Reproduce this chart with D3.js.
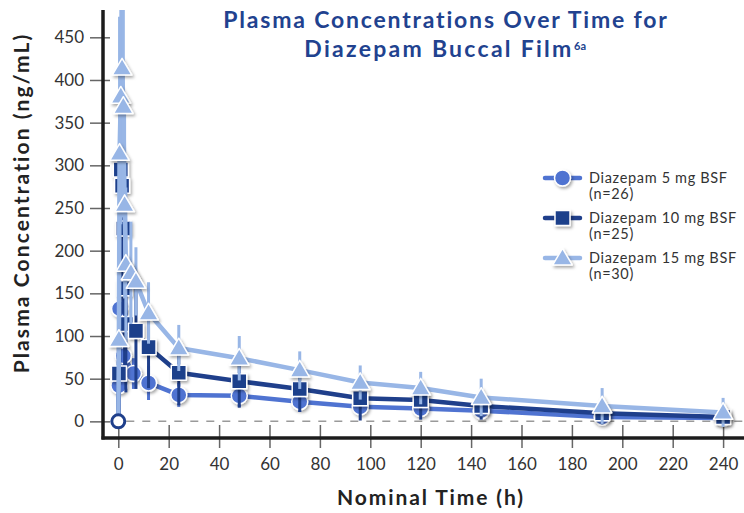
<!DOCTYPE html>
<html>
<head>
<meta charset="utf-8">
<script src="https://cdn.jsdelivr.net/npm/d3@7"></script>
<style>
  body { margin: 0; background: #fff; }
  svg { display: block; font-family: Lato, "Open Sans", sans-serif; }
</style>
</head>
<body>
<div class="chart"></div>
<script>

// Chart data
var xTicks = [0, 20, 40, 60, 80, 100, 120, 140, 160, 180, 200, 220, 240];
var yTicks = [0, 50, 100, 150, 200, 250, 300, 350, 400, 450];

var times5 = [0, 0.25, 0.5, 2, 6, 12, 24, 48, 72, 96, 120, 144, 192, 240];
var conc5  = [0, 42, 132, 77, 56, 45, 31, 30, 23, 17, 15, 12.5, 5, 4];
var sd5    = [0, 20, 45, 35, 18, 20, 14, 13, 12, 10, 9, 8, 6, 5];

var times10 = [0, 0.25, 1, 1.5, 2, 2.5, 3, 7, 12, 24, 48, 72, 96, 120, 144, 192, 240];
var conc10  = [0, 56, 295, 276, 226, 156, 114, 106, 87, 57, 47, 38, 27, 25, 18, 9.5, 5];
var sd10    = [0, 30, 120, 110, 100, 90, 80, 68, 48, 38, 31, 27, 26, 23, 16, 13, 8];

var times15 = [0, 0.25, 0.5, 1, 1.5, 2, 2.5, 3, 5, 7, 12, 24, 48, 72, 96, 120, 144, 192, 240];
var conc15  = [0, 96, 314, 381, 414, 369, 254, 184, 174, 164, 127, 86, 74, 60, 45.5, 39, 28, 18, 10.5];
var sd15    = [0, 60, 160, 150, 140, 130, 110, 90, 60, 40, 36, 27, 26, 22, 20, 19, 22, 21, 17];

var seriesNames = ["Diazepam 5 mg BSF", "Diazepam 10 mg BSF", "Diazepam 15 mg BSF"];
var seriesN = ["(n=26)", "(n=25)", "(n=30)"];

var colors = ["#4f73d1", "#1f3f8b", "#98b6e6"];
var shapes = ["circle", "square", "triangle"];

var width = 744, height = 513;
var margin = { left: 103, right: 2, top: 10, bottom: 75 };

var svg = d3.select(".chart")
  .append("svg")
    .attr("width", width)
    .attr("height", height);

// Widen a text with letter spacing until it is as wide as the reference
function spreadTo(sel, target) {
  var node = sel.node();
  var w = node.getComputedTextLength();
  var n = node.textContent.length;
  if (w < target && n > 1) sel.attr("letter-spacing", ((target - w) / (n - 1)).toFixed(2));
}

// Scales
var x = d3.scaleLinear().domain([-6.07, 247.5]).range([margin.left, width - margin.right]);
var y = d3.scaleLinear().domain([-19.5, 482]).range([height - margin.bottom, margin.top]);

var defs = svg.append("defs");
defs.append("clipPath").attr("id", "plotClip")
  .append("rect")
    .attr("x", margin.left)
    .attr("y", margin.top)
    .attr("width", width - margin.left)
    .attr("height", height - margin.bottom - margin.top);

var shadow = defs.append("filter").attr("id", "shadow")
    .attr("x", "-50%").attr("y", "-50%").attr("width", "200%").attr("height", "200%");
shadow.append("feDropShadow")
    .attr("dx", 1.5).attr("dy", 2).attr("stdDeviation", 1.4)
    .attr("flood-color", "#000").attr("flood-opacity", 0.35);

// Title
var title1 = svg.append("text")
    .attr("x", 446).attr("y", 28)
    .attr("text-anchor", "middle")
    .attr("fill", "#21428f")
    .style("font-weight", 700)
    .style("font-size", "23px")
    .text("Plasma Concentrations Over Time for");
spreadTo(title1, 444);

var title2 = svg.append("text")
    .attr("x", 439).attr("y", 57)
    .attr("text-anchor", "middle")
    .attr("fill", "#21428f")
    .style("font-weight", 700)
    .style("font-size", "23px")
    .text("Diazepam Buccal Film");
spreadTo(title2, 267);

svg.append("text")
    .attr("x", 574).attr("y", 50)
    .attr("fill", "#21428f")
    .style("font-weight", 700)
    .style("font-size", "11px")
    .text("6a");

// Dashed zero line
svg.append("line")
    .attr("x1", x(0) + 8).attr("x2", width)
    .attr("y1", y(0)).attr("y2", y(0))
    .attr("stroke", "#9a9a9a")
    .attr("stroke-width", 1.5)
    .attr("stroke-dasharray", "8,8");

// Tick marks and labels
var xAxis = d3.axisBottom(x).tickValues(xTicks).tickSize(23).tickPadding(10);
var gx = svg.append("g")
    .attr("transform", "translate(0," + (y(-19.5) - 13) + ")")
    .call(xAxis);
gx.select(".domain").remove();
gx.selectAll(".tick line").attr("stroke", "#666").attr("stroke-width", 1.5);
gx.selectAll(".tick text").attr("fill", "#333").style("font-size", "17px").style("font-family", "Lato");

var yAxis = d3.axisLeft(y).tickValues(yTicks).tickSize(20).tickPadding(6);
var gy = svg.append("g")
    .attr("transform", "translate(" + (margin.left + 7) + ",0)")
    .call(yAxis);
gy.select(".domain").remove();
gy.selectAll(".tick line").attr("stroke", "#666").attr("stroke-width", 1.5);
gy.selectAll(".tick text").attr("fill", "#333").style("font-size", "17px").style("font-family", "Lato");

// Series
var plot = svg.append("g").attr("clip-path", "url(#plotClip)");

var seriesData = [
  { t: times5, c: conc5, sd: sd5 },
  { t: times10, c: conc10, sd: sd10 },
  { t: times15, c: conc15, sd: sd15 }
];

function drawMarker(g, shape, color, size) {
  if (shape == "circle") {
    g.append("circle").attr("r", size * 0.5).attr("fill", color);
  } else if (shape == "square") {
    g.append("rect").attr("x", -size * 0.47).attr("y", -size * 0.47)
      .attr("width", size * 0.94).attr("height", size * 0.94).attr("fill", color);
  } else {
    var s = size * 0.58;
    g.append("path").attr("d", "M0," + (-s * 1.05) + "L" + (s * 1.05) + "," + (s * 0.75) + "L" + (-s * 1.05) + "," + (s * 0.75) + "Z")
      .attr("fill", color);
  }
  g.selectAll("*").attr("stroke", "#fff").attr("stroke-width", 1.5).attr("stroke-linejoin", "round");
}

var line = d3.line()
    .x(function(d) { return x(d.t); })
    .y(function(d) { return y(d.c); });

seriesData.forEach(function(s, i) {
  var pts = s.t.map(function(t, k) { return { t: t, c: s.c[k], sd: s.sd[k] }; });
  var g = plot.append("g");

  g.append("path")
    .datum(pts)
    .attr("d", line)
    .attr("fill", "none")
    .attr("stroke", colors[i])
    .attr("stroke-width", 4.5)
    .attr("stroke-linejoin", "round");

  g.selectAll(".err")
    .data(pts.filter(function(d) { return d.sd > 0; }))
    .enter()
    .append("line")
      .attr("x1", function(d) { return x(d.t); })
      .attr("x2", function(d) { return x(d.t); })
      .attr("y1", function(d) { return y(d.c - d.sd); })
      .attr("y2", function(d) { return y(d.c + d.sd); })
      .attr("stroke", colors[i])
      .attr("stroke-width", 3);

  g.selectAll(".mk")
    .data(pts.filter(function(d) { return d.t > 0; }))
    .enter()
    .append("g")
      .attr("filter", "url(#shadow)")
      .attr("transform", function(d) { return "translate(" + x(d.t) + "," + y(d.c) + ")"; })
      .each(function() { drawMarker(d3.select(this), shapes[i], colors[i], 16); });
});

// Baseline (time 0) marker
plot.append("circle")
    .attr("cx", x(0)).attr("cy", y(0)).attr("r", 6.5)
    .attr("fill", "#fff")
    .attr("stroke", "#1f3f8b")
    .attr("stroke-width", 3);

// Axis lines
svg.append("line")
    .attr("x1", margin.left).attr("x2", margin.left)
    .attr("y1", margin.top).attr("y2", y(-19.5) + 1.5)
    .attr("stroke", "#1c1c1c").attr("stroke-width", 3.5);
svg.append("line")
    .attr("x1", margin.left - 1.5).attr("x2", width)
    .attr("y1", y(-19.5)).attr("y2", y(-19.5))
    .attr("stroke", "#1c1c1c").attr("stroke-width", 3.5);

// Axis titles
var yTitle = svg.append("text")
    .attr("transform", "translate(29,203) rotate(-90)")
    .attr("text-anchor", "middle")
    .attr("fill", "#222")
    .style("font-weight", 700)
    .style("font-size", "21px")
    .text("Plasma Concentration (ng/mL)");
spreadTo(yTitle, 339);

var xTitle = svg.append("text")
    .attr("x", 431).attr("y", 505)
    .attr("text-anchor", "middle")
    .attr("fill", "#222")
    .style("font-weight", 700)
    .style("font-size", "21px")
    .text("Nominal Time (h)");
spreadTo(xTitle, 186);

// Legend
var legend = svg.append("g").attr("transform", "translate(545,178)");
seriesNames.forEach(function(name, i) {
  var row = legend.append("g").attr("transform", "translate(0," + (i * 40) + ")");
  row.append("line")
    .attr("x1", 0).attr("x2", 35)
    .attr("stroke", colors[i]).attr("stroke-width", 4.5).attr("stroke-linecap", "round");
  var m = row.append("g").attr("transform", "translate(17.5,0)").attr("filter", "url(#shadow)");
  drawMarker(m, shapes[i], colors[i], 16);
  var t1 = row.append("text").attr("x", 44).attr("y", 5).attr("fill", "#333").style("font-size", "14.5px").text(name);
  if (i == 0) spreadTo(t1, 138);
  else t1.attr("letter-spacing", legend.select("text").attr("letter-spacing"));
  row.append("text").attr("x", 44).attr("y", 21).attr("fill", "#333").style("font-size", "14.5px")
    .attr("letter-spacing", legend.select("text").attr("letter-spacing"))
    .text(seriesN[i]);
});

</script>
</body>
</html>
